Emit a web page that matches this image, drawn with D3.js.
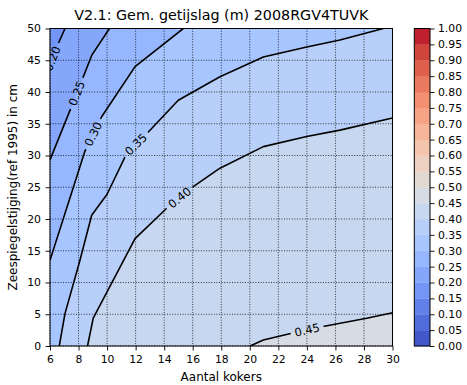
<!DOCTYPE html>
<html>
<head>
<meta charset="utf-8">
<script src="https://cdn.jsdelivr.net/npm/d3@7"></script>
<style>
  body { margin: 0; background: #fff; }
  svg { display: block; }
  text { font-family: "DejaVu Sans", sans-serif; fill: #000; }
</style>
</head>
<body>
<svg id="chart" width="467" height="385"></svg>
<script>
// Gemiddelde getijslag (m) as a function of aantal kokers (x) and
// zeespiegelstijging in cm (y). Each contour is a traced polyline of [kokers, cm].
const xTicks = [6, 8, 10, 12, 14, 16, 18, 20, 22, 24, 26, 28, 30];
const yTicks = [0, 5, 10, 15, 20, 25, 30, 35, 40, 45, 50];
const colorbarTicks = [0.00, 0.05, 0.10, 0.15, 0.20, 0.25, 0.30, 0.35, 0.40, 0.45, 0.50,
                       0.55, 0.60, 0.65, 0.70, 0.75, 0.80, 0.85, 0.90, 0.95, 1.00];

const levels = [0.20, 0.25, 0.30, 0.35, 0.40, 0.45];
const contour020 = [[6.00, 44.3], [6.58, 47.6], [7.05, 50]];
const contour025 = [[6.00, 29.3], [7.40, 37.1], [8.93, 45.8], [10.17, 50]];
const contour030 = [[6.00, 13.5], [8.45, 30.7], [9.62, 36.1], [11.96, 44.0], [15.34, 50]];
const contour035 = [[6.65, 0], [7.05, 5.1], [8.10, 13.5], [8.92, 20.6], [10.0, 23.9],
                    [11.37, 30.3], [12.89, 33.7], [14.99, 38.7], [17.91, 42.4], [20.95, 45.5],
                    [23.99, 47.1], [26.32, 48.2], [29.36, 50]];
const contour040 = [[8.63, 0], [9.03, 4.4], [11.96, 16.9], [14.18, 21.7], [16.04, 25.1],
                    [17.91, 28.0], [20.95, 31.4], [23.99, 33.0], [26.32, 34.0], [30, 35.9]];
const contour045 = [[20.02, 0], [20.95, 0.94], [22.94, 2.0], [25.04, 3.04], [28.19, 4.36], [30, 5.24]];
const contourLines = [contour020, contour025, contour030, contour035, contour040, contour045];
// approximate spot of each inline label, snapped onto its contour below
const labelSpots = [[6.24, 45.2], [7.63, 40.0], [8.92, 33.5], [11.96, 31.9], [14.99, 23.6], [23.99, 2.8]];

// matplotlib "coolwarm" control colours, evenly spaced over 0..1
const coolwarm = [
  [0.2298057, 0.298717966, 0.753683153], [0.26623388, 0.353094838, 0.801466763],
  [0.30386891, 0.406535296, 0.84495867], [0.342804478, 0.458757618, 0.883725899],
  [0.38301334, 0.50941904, 0.917387822], [0.424369608, 0.558148092, 0.945619588],
  [0.46666708, 0.604562568, 0.968154911], [0.509635204, 0.648280772, 0.98478814],
  [0.552953156, 0.688929332, 0.995375608], [0.596262162, 0.726149107, 0.999836203],
  [0.639176211, 0.759599947, 0.998151185], [0.681291281, 0.788964712, 0.990363227],
  [0.722193294, 0.813952739, 0.976574709], [0.761464949, 0.834302879, 0.956945269],
  [0.798691636, 0.849786142, 0.931688648], [0.833466556, 0.860207984, 0.901068838],
  [0.865395197, 0.86541021, 0.865395561], [0.897787179, 0.848937047, 0.820880546],
  [0.924127593, 0.827384882, 0.774508472], [0.944468518, 0.800927443, 0.726736146],
  [0.958852946, 0.769767752, 0.678007945], [0.96732803, 0.734132809, 0.628751763],
  [0.969954137, 0.694266682, 0.579375448], [0.966811177, 0.650421156, 0.530263762],
  [0.958003065, 0.602842431, 0.481775914], [0.943660866, 0.551750968, 0.434243684],
  [0.923944917, 0.49730856, 0.387970225], [0.89904617, 0.439559467, 0.343229596],
  [0.869186849, 0.378313092, 0.300267182], [0.834620542, 0.312874446, 0.259301199],
  [0.795631745, 0.24128379, 0.220525627], [0.752534934, 0.157246067, 0.184115123],
  [0.705673158, 0.01555616, 0.150232812]
];
const cmap = d3.scaleLinear()
  .domain(coolwarm.map((_, i) => i / (coolwarm.length - 1)))
  .range(coolwarm.map(c => d3.rgb(c[0] * 255, c[1] * 255, c[2] * 255).toString()))
  .interpolate(d3.interpolateRgb)
  .clamp(true);
const step = colorbarTicks[1] - colorbarTicks[0];
const bandColor = lo => cmap(lo + step / 2);   // colour of band [lo, lo+step]

const svg = d3.select("#chart");
const W = 467, H = 385;
const plot = { left: 50, right: 392.5, top: 28.5, bottom: 346 };
const x = d3.scaleLinear().domain(d3.extent(xTicks)).range([plot.left, plot.right]);
const y = d3.scaleLinear().domain(d3.extent(yTicks)).range([plot.bottom, plot.top]);
const [x0, x1] = x.domain(), [y0, y1] = y.domain();

const defs = svg.append("defs");
defs.append("clipPath").attr("id", "plotClip").append("rect")
  .attr("x", plot.left).attr("y", plot.top)
  .attr("width", plot.right - plot.left).attr("height", plot.bottom - plot.top);

const line = d3.line().x(d => x(d[0])).y(d => y(d[1]));
const polygon = pts => line(pts) + "Z";

// ---- filled bands ----
const fills = svg.append("g").attr("clip-path", "url(#plotClip)");
const baseLevel = 0.40;               // band [0.40, 0.45] covers the rest of the plane
fills.append("rect")
  .attr("x", plot.left).attr("y", plot.top)
  .attr("width", plot.right - plot.left).attr("height", plot.bottom - plot.top)
  .attr("fill", bandColor(baseLevel));

// higher-value region lies toward the lower right corner
levels.forEach((lv, i) => {
  if (lv <= baseLevel + 1e-9) return;
  const pts = contourLines[i].slice();
  pts.push([x1, y0]);
  fills.append("path").attr("d", polygon(pts)).attr("fill", bandColor(lv));
});
// lower-value regions lie toward the upper left corner; draw from high to low
levels.map((lv, i) => [lv, i]).filter(d => d[0] <= baseLevel + 1e-9)
  .sort((a, b) => b[0] - a[0])
  .forEach(([lv, i]) => {
    const c = contourLines[i];
    const start = c[0], end = c[c.length - 1];
    const pts = c.slice();
    if (end[0] >= x1 - 1e-9 && end[1] < y1) pts.push([x1, y1]);
    pts.push([x0, y1]);
    if (start[1] <= y0 + 1e-9 && start[0] > x0) pts.push([x0, y0]);
    fills.append("path").attr("d", polygon(pts)).attr("fill", bandColor(lv - step));
  });

// ---- grid ----
const grid = svg.append("g").attr("stroke", "#000").attr("stroke-width", 0.9)
  .attr("stroke-dasharray", "1,1.6").attr("opacity", 0.85);
xTicks.forEach(t => grid.append("line")
  .attr("x1", x(t)).attr("x2", x(t)).attr("y1", plot.top).attr("y2", plot.bottom));
yTicks.forEach(t => grid.append("line")
  .attr("y1", y(t)).attr("y2", y(t)).attr("x1", plot.left).attr("x2", plot.right));

// ---- inline label placement ----
const labelFont = 11.5;
function snap(pts, spot) {
  const px = x(spot[0]), py = y(spot[1]);
  let best = null;
  for (let k = 0; k < pts.length - 1; k++) {
    const ax = x(pts[k][0]), ay = y(pts[k][1]);
    const bx = x(pts[k + 1][0]), by = y(pts[k + 1][1]);
    const dx = bx - ax, dy = by - ay;
    let t = ((px - ax) * dx + (py - ay) * dy) / (dx * dx + dy * dy);
    t = Math.max(0, Math.min(1, t));
    const cx = ax + t * dx, cy = ay + t * dy;
    const dist = Math.hypot(px - cx, py - cy);
    if (!best || dist < best.dist) {
      let ang = Math.atan2(dy, dx) * 180 / Math.PI;
      if (ang > 90) ang -= 180;
      if (ang < -90) ang += 180;
      best = { dist, cx, cy, ang };
    }
  }
  return best;
}

const labels = svg.append("g").attr("clip-path", "url(#plotClip)");
const mask = defs.append("mask").attr("id", "labelGaps")
  .attr("maskUnits", "userSpaceOnUse")
  .attr("x", 0).attr("y", 0).attr("width", W).attr("height", H);
mask.append("rect").attr("x", 0).attr("y", 0).attr("width", W).attr("height", H).attr("fill", "#fff");

levels.forEach((lv, i) => {
  const s = snap(contourLines[i], labelSpots[i]);
  const tr = `translate(${s.cx},${s.cy}) rotate(${s.ang})`;
  const t = labels.append("text")
    .attr("transform", tr)
    .attr("text-anchor", "middle")
    .attr("dy", "0.36em")
    .attr("font-size", labelFont)
    .text(d3.format(".2f")(lv));
  const w = t.node().getComputedTextLength();
  mask.append("rect")
    .attr("transform", tr)
    .attr("x", -w / 2 - 4).attr("y", -labelFont * 0.6)
    .attr("width", w + 8).attr("height", labelFont * 1.2)
    .attr("fill", "#000");
});

// ---- contour lines ----
svg.append("g").attr("clip-path", "url(#plotClip)")
  .append("g").attr("mask", "url(#labelGaps)")
  .selectAll("path").data(contourLines).join("path")
  .attr("d", line).attr("fill", "none")
  .attr("stroke", "#000").attr("stroke-width", 1.6).attr("stroke-linejoin", "round");

// ---- axes ----
const tickFont = 10.8;
const xAxis = svg.append("g").attr("transform", `translate(0,${plot.bottom})`)
  .call(d3.axisBottom(x).tickValues(xTicks).tickFormat(d3.format("d")).tickSize(4.5).tickPadding(5));
const yAxis = svg.append("g").attr("transform", `translate(${plot.left},0)`)
  .call(d3.axisLeft(y).tickValues(yTicks).tickFormat(d3.format("d")).tickSize(4.5).tickPadding(4.5));
[xAxis, yAxis].forEach(a => {
  a.select(".domain").remove();
  a.selectAll("text").attr("font-size", tickFont).attr("font-family", "DejaVu Sans").attr("fill", "#000");
  a.selectAll("line").attr("stroke", "#000").attr("stroke-width", 0.9);
});

svg.append("rect")
  .attr("x", plot.left).attr("y", plot.top)
  .attr("width", plot.right - plot.left).attr("height", plot.bottom - plot.top)
  .attr("fill", "none").attr("stroke", "#000").attr("stroke-width", 1);

svg.append("text")
  .attr("x", (plot.left + plot.right) / 2).attr("y", 19.5)
  .attr("text-anchor", "middle").attr("font-size", 14.3)
  .text("V2.1: Gem. getijslag (m) 2008RGV4TUVK");
svg.append("text")
  .attr("x", (plot.left + plot.right) / 2).attr("y", 380.5)
  .attr("text-anchor", "middle").attr("font-size", 12)
  .text("Aantal kokers");
svg.append("text")
  .attr("transform", `translate(17,${(plot.top + plot.bottom) / 2}) rotate(-90)`)
  .attr("text-anchor", "middle").attr("font-size", 12)
  .text("Zeespiegelstijging(ref 1995) in cm");

// ---- colorbar ----
const cb = { left: 414.3, right: 430 };
const cy = d3.scaleLinear().domain(d3.extent(colorbarTicks)).range([plot.bottom, plot.top]);
const bar = svg.append("g");
bar.selectAll("rect.band").data(colorbarTicks.slice(0, -1)).join("rect")
  .attr("class", "band")
  .attr("x", cb.left).attr("width", cb.right - cb.left)
  .attr("y", d => cy(d + step)).attr("height", d => cy(d) - cy(d + step) + 0.3)
  .attr("fill", d => bandColor(d));
bar.append("rect")
  .attr("x", cb.left).attr("y", plot.top)
  .attr("width", cb.right - cb.left).attr("height", plot.bottom - plot.top)
  .attr("fill", "none").attr("stroke", "#000").attr("stroke-width", 1);
const cAxis = svg.append("g").attr("transform", `translate(${cb.right},0)`)
  .call(d3.axisRight(cy).tickValues(colorbarTicks).tickFormat(d3.format(".2f")).tickSize(4.5).tickPadding(3.5));
cAxis.select(".domain").remove();
cAxis.selectAll("text").attr("font-size", tickFont).attr("font-family", "DejaVu Sans").attr("fill", "#000");
cAxis.selectAll("line").attr("stroke", "#000").attr("stroke-width", 0.9);
</script>
</body>
</html>
